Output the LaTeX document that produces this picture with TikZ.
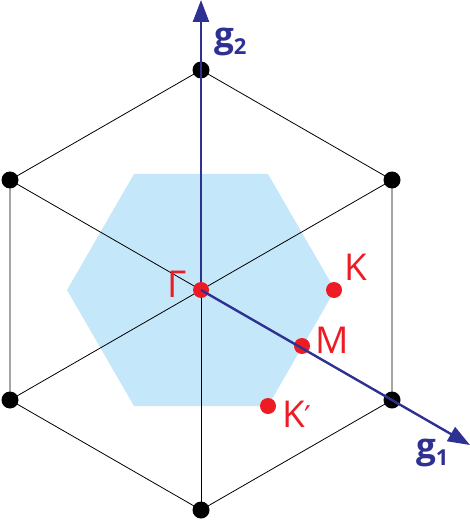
\documentclass[tikz,border=0pt]{standalone}
\usepackage{fontspec}
\setsansfont{Open Sans}
\newfontfamily\primefont{DejaVu Sans}
\usetikzlibrary{arrows.meta}
\definecolor{navy}{RGB}{46,49,146}
\definecolor{bzred}{RGB}{237,28,36}
\definecolor{bzblue}{RGB}{196,232,250}
\begin{document}
\begin{tikzpicture}[x=1pt,y=-1pt,
  latt/.style={circle,fill=black,inner sep=0pt,minimum size=17pt},
  hsp/.style={circle,fill=bzred,inner sep=0pt,minimum size=16pt},
  lab/.style={text=bzred,font=\sffamily\fontsize{37}{37}\selectfont,inner sep=0pt,anchor=base},
  glab/.style={text=navy,font=\sffamily\bfseries\fontsize{35}{35}\selectfont,inner sep=0pt,anchor=base west},
  axis/.style={draw=navy,line width=2.4pt,-{Triangle[length=22pt,width=16pt]}},
  edge/.style={draw=black,line width=0.8pt}]
\useasboundingbox (0,0) rectangle (470,521);
\coordinate (O) at (201,290);
% Brillouin zone
\fill[bzblue] (67,290) -- (134,174) -- (268,174) -- (335,290) -- (268,406) -- (134,406) -- cycle;
% lattice points
\coordinate (p1) at (201,70);
\coordinate (p2) at (392,180);
\coordinate (p3) at (392,400);
\coordinate (p4) at (201,510);
\coordinate (p5) at (10,400);
\coordinate (p6) at (10,180);
\draw[edge] (p1) -- (p2) -- (p3) -- (p4) -- (p5) -- (p6) -- cycle;
\foreach \i in {1,...,6} \draw[edge] (O) -- (p\i);
\foreach \i in {1,...,6} \node[latt] (v\i) at (p\i) {};
% axis g2
\coordinate (g2end) at (201,0);
\draw[axis] (O) -- (g2end);
% high symmetry points
\node[hsp] (G) at (O) {};
\node[hsp] (K) at (334,290) {};
\node[hsp] (M) at (302,346) {};
\node[hsp] (Kp) at (268,406) {};
% axis g1
\coordinate (g1end) at (470,445);
\draw[axis] (O) -- (g1end);
% labels
\node[lab] (LG) at (177,297) {Γ};
\node[lab] (LK) at (356,280) {K};
\node[lab] (LM) at (332,353) {M};
\node[lab] (LKp) at (297,427) {K{\primefont\fontsize{30}{30}\selectfont ′}};
\node[glab] (Lg2) at (214,48) {g\raisebox{-7pt}{\fontsize{22}{22}\selectfont 2}};
\node[glab] (Lg1) at (416,458) {g\raisebox{-7pt}{\fontsize{22}{22}\selectfont 1}};
\end{tikzpicture}
\end{document}
